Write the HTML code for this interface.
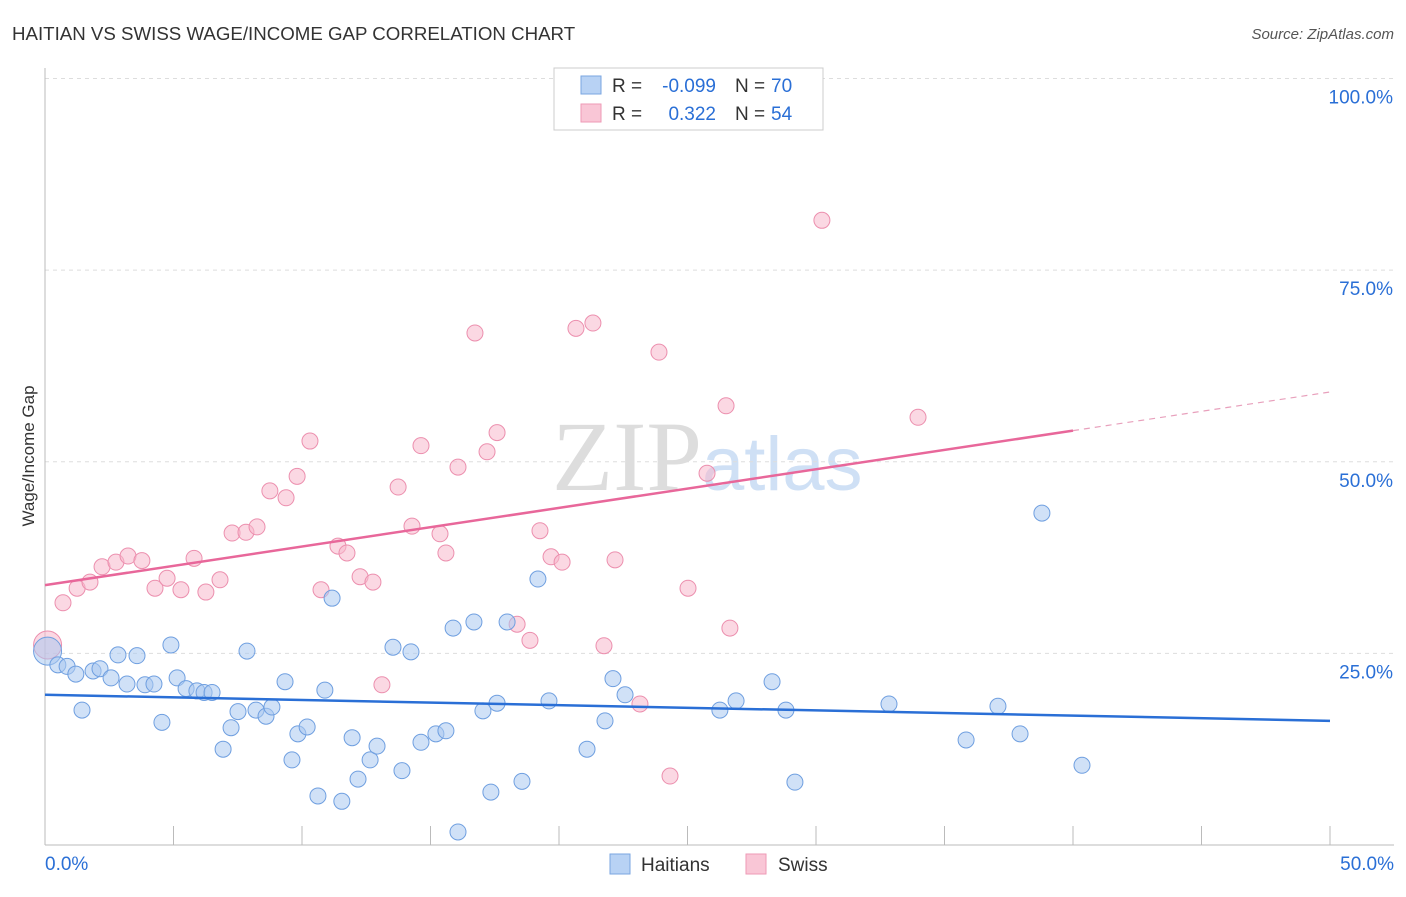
<!DOCTYPE html>
<html><head><meta charset="utf-8"><style>
body{margin:0;background:#fff;font-family:"Liberation Sans",sans-serif;}
</style></head><body>
<svg width="1406" height="892" xmlns="http://www.w3.org/2000/svg" font-family="Liberation Sans, sans-serif">
<text x="12" y="40" font-size="18.7" fill="#333">HAITIAN VS SWISS WAGE/INCOME GAP CORRELATION CHART</text>
<text x="1394" y="39" font-size="15" fill="#555" text-anchor="end" font-style="italic">Source: ZipAtlas.com</text>
<text x="552" y="490" font-size="100" fill="#ddd" font-family="Liberation Serif, serif">ZIP<tspan fill="#cfe0f5" font-family="Liberation Sans, sans-serif" font-size="76">atlas</tspan></text>
<g id="grid"></g>
<g id="axes"></g>
<g id="marks"></g>
<text transform="translate(34,456) rotate(-90)" font-size="17" fill="#333" text-anchor="middle">Wage/Income Gap</text>
<g>
<rect x="554" y="68" width="269" height="62" fill="#fff" stroke="#ccc"/>
<rect x="581" y="76" width="20" height="18" fill="#b8d2f4" stroke="#7aa6e0"/>
<rect x="581" y="104" width="20" height="18" fill="#f9c6d6" stroke="#ee9ab6"/>
<text x="612" y="92" font-size="19" fill="#333">R =</text>
<text x="716" y="92" font-size="19" fill="#2a6fd6" text-anchor="end">-0.099</text>
<text x="735" y="92" font-size="19" fill="#333">N =</text>
<text x="771" y="92" font-size="19" fill="#2a6fd6">70</text>
<text x="612" y="120" font-size="19" fill="#333">R =</text>
<text x="716" y="120" font-size="19" fill="#2a6fd6" text-anchor="end">0.322</text>
<text x="735" y="120" font-size="19" fill="#333">N =</text>
<text x="771" y="120" font-size="19" fill="#2a6fd6">54</text>
</g>
<g>
<rect x="610" y="854" width="20" height="20" fill="#b8d2f4" stroke="#7aa6e0"/>
<text x="641" y="871" font-size="19" fill="#333">Haitians</text>
<rect x="746" y="854" width="20" height="20" fill="#f9c6d6" stroke="#ee9ab6"/>
<text x="778" y="871" font-size="19" fill="#333">Swiss</text>
</g>
</svg>
<script>
const yTicks=[25,50,75,100];
const yTickLabels=["25.0%","50.0%","75.0%","100.0%"];
const xTickLabels=["0.0%","50.0%"];
const haitianX=[0.1,0.5,0.86,1.2,1.44,1.87,2.14,2.57,2.84,3.19,3.58,3.89,4.24,4.55,4.9,5.14,5.49,5.91,6.19,6.5,6.93,7.24,7.51,7.86,8.21,8.6,8.83,9.34,9.61,9.84,10.2,10.62,10.89,11.17,11.55,11.95,12.18,12.65,12.92,13.54,13.89,14.24,14.63,15.21,15.6,15.88,16.07,16.69,17.04,17.35,17.59,17.98,18.56,19.18,19.61,21.09,21.79,22.1,22.57,26.26,26.89,28.29,28.83,29.18,32.84,35.84,37.08,37.94,38.79,40.35];
const haitianY=[25.3,23.5,23.3,22.3,17.6,22.7,23.0,21.8,24.8,21.0,24.7,20.9,21.0,16.0,26.1,21.8,20.4,20.1,19.9,19.9,12.5,15.3,17.4,25.3,17.6,16.8,18.0,21.3,11.1,14.5,15.4,6.4,20.2,32.2,5.7,14.0,8.6,11.1,12.9,25.8,9.7,25.2,13.4,14.5,14.9,28.3,1.7,29.1,17.5,6.9,18.5,29.1,8.3,34.7,18.8,12.5,16.2,21.7,19.6,17.6,18.8,21.3,17.6,8.2,18.4,13.7,18.1,14.5,43.3,10.4];
const swissX=[0.1,0.7,1.25,1.75,2.22,2.76,3.23,3.77,4.28,4.75,5.29,5.8,6.26,6.81,7.28,7.82,8.25,8.75,9.38,9.81,10.31,10.74,11.4,11.75,12.26,12.76,13.11,13.74,14.28,14.63,15.37,15.6,16.07,16.73,17.2,17.59,18.37,18.87,19.26,19.69,20.12,20.66,21.32,21.75,22.18,23.15,23.89,24.32,25.02,25.76,26.5,26.65,30.23,33.97];
const swissY=[26.1,31.6,33.5,34.3,36.3,36.9,37.7,37.1,33.5,34.8,33.3,37.4,33.0,34.6,40.7,40.8,41.5,46.2,45.3,48.1,52.7,33.3,39.0,38.1,35.0,34.3,20.9,46.7,41.6,52.1,40.6,38.1,49.3,66.8,51.3,53.8,28.8,26.7,41.0,37.6,36.9,67.4,68.1,26.0,37.2,18.4,64.3,9.0,33.5,48.5,57.3,28.3,81.5,55.8];
const haitianTrend=[19.6,16.2];
const swissTrend=[33.9,59.1];
const NS="http://www.w3.org/2000/svg";
const X=v=>45+v*25.7, Y=v=>845-v*7.665;
function mk(parent,tag,attrs){const e=document.createElementNS(NS,tag);for(const k in attrs)e.setAttribute(k,attrs[k]);document.getElementById(parent).appendChild(e);return e;}
yTicks.forEach((t,i)=>{
 const l=mk('grid','line',{x1:45,x2:1394,y1:Y(t),y2:Y(t),stroke:'#ddd','stroke-dasharray':'4,4'});
 
 
 const tx=mk('axes','text',{x:1393,y:Y(t)+25,'font-size':19,fill:'#2a6fd6','text-anchor':'end'});
 tx.textContent=yTickLabels[i];
 
 
});
const ya=mk('axes','line',{x1:45,x2:45,y1:68,y2:845,stroke:'#bbb'});


const xa=mk('axes','line',{x1:45,x2:1394,y1:845,y2:845,stroke:'#bbb'});


for(let i=0;i<=10;i++){
 const tk=mk('axes','line',{x1:X(i*5),x2:X(i*5),y1:826,y2:845,stroke:'#bbb'});
 
 
}
[[0,'start',45],[50,'end',1394]].forEach((d,i)=>{
 const t=mk('axes','text',{x:d[2],y:870,'font-size':19,fill:'#2a6fd6','text-anchor':d[1]});
 t.textContent=xTickLabels[i];
 
 
});
function pts(xs,ys,fill,stroke,name){
 xs.forEach((x,i)=>{
  const r=i===0?14:8;
  const c=mk('marks','circle',{cx:X(x),cy:Y(ys[i]),r:r,fill:fill,'fill-opacity':0.55,stroke:stroke,'stroke-width':1});
  
  
 });
}
pts(swissX,swissY,'#f7b8cc','#ec8fae','swiss-point');
pts(haitianX,haitianY,'#a9c8f0','#6f9fe0','haitian-point');
const bl=mk('marks','line',{x1:X(0),y1:Y(haitianTrend[0]),x2:X(50),y2:Y(haitianTrend[1]),stroke:'#2a6fd6','stroke-width':2.5});


const sAt=x=>swissTrend[0]+(swissTrend[1]-swissTrend[0])*x/50;
const pl=mk('marks','line',{x1:X(0),y1:Y(sAt(0)),x2:X(40),y2:Y(sAt(40)),stroke:'#e8679a','stroke-width':2.5});


const pd=mk('marks','line',{x1:X(40),y1:Y(sAt(40)),x2:X(50),y2:Y(sAt(50)),stroke:'#e8a0bc','stroke-width':1.2,'stroke-dasharray':'6,5'});


</script>
</body></html>
